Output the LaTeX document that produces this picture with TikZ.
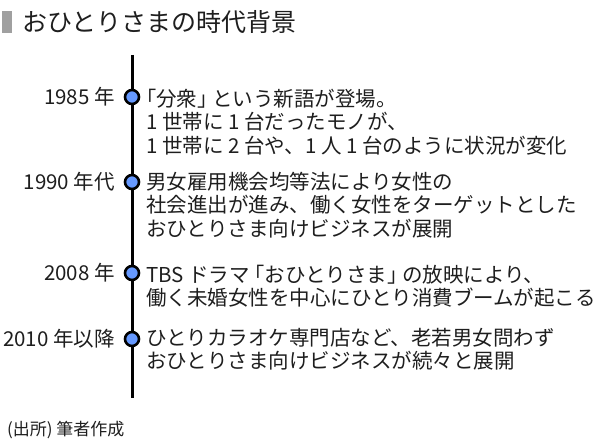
\documentclass[tikz,border=0pt]{standalone}
\usepackage{fontspec}
\setmainfont{Noto Sans CJK JP}
\usepackage{xcolor}
\usetikzlibrary{positioning}

\definecolor{dotblue}{RGB}{102,153,255}
\definecolor{bargray}{RGB}{160,160,160}
\definecolor{inkgray}{RGB}{30,30,30}

\tikzset{
  yeardot/.style={circle, draw=black, line width=2.6pt, fill=dotblue, minimum size=14pt, inner sep=0pt},
  yearlabel/.style={anchor=east, inner sep=0pt, text=inkgray, font=\fontsize{20.5}{24}\selectfont},
  eventtext/.style={anchor=west, align=left, inner sep=0pt, text=inkgray, font=\fontsize{20.5}{23.5}\selectfont},
}

\begin{document}
\begin{tikzpicture}[x=1pt, y=-1pt]
\useasboundingbox (0, 0) rectangle (600, 441);
% title
\fill [bargray] (2, 11) rectangle (12, 33);
\node (title) [anchor=west, inner sep=0pt, text=inkgray, font=\fontsize{25}{28}\selectfont] at (22, 22) {おひとりさまの時代背景};
% timeline
\coordinate (top) at (132, 55);
\coordinate (bottom) at (132, 398);
\draw [line width=3pt] (top) -- (bottom);
\node (d1985) [yeardot] at (132, 97) {};
\node (d1990) [yeardot] at (132, 182) {};
\node (d2008) [yeardot] at (132, 273) {};
\node (d2010) [yeardot] at (132, 339) {};
% years
\node (y1985) [yearlabel] at (115, 97) {1985 年};
\node (y1990) [yearlabel] at (115, 182) {1990 年代};
\node (y2008) [yearlabel] at (115, 273) {2008 年};
\node (y2010) [yearlabel] at (115, 339) {2010 年以降};
% events
\node (e1985) [eventtext] at (146, 122) {｢分衆｣ という新語が登場。\\1 世帯に 1 台だったモノが、\\1 世帯に 2 台や、1 人 1 台のように状況が変化};
\node (e1990) [eventtext] at (146, 205) {男女雇用機会均等法により女性の\\社会進出が進み、働く女性をターゲットとした\\おひとりさま向けビジネスが展開};
\node (e2008) [eventtext] at (146, 286) {TBS ドラマ ｢おひとりさま｣ の放映により、\\働く未婚女性を中心にひとり消費ブームが起こる};
\node (e2010) [eventtext] at (146, 349) {ひとりカラオケ専門店など、老若男女問わず\\おひとりさま向けビジネスが続々と展開};
% source
\node (source) [anchor=west, inner sep=0pt, text=inkgray, font=\fontsize{17}{19}\selectfont] at (7, 430) {(出所) 筆者作成};
\end{tikzpicture}
\end{document}
